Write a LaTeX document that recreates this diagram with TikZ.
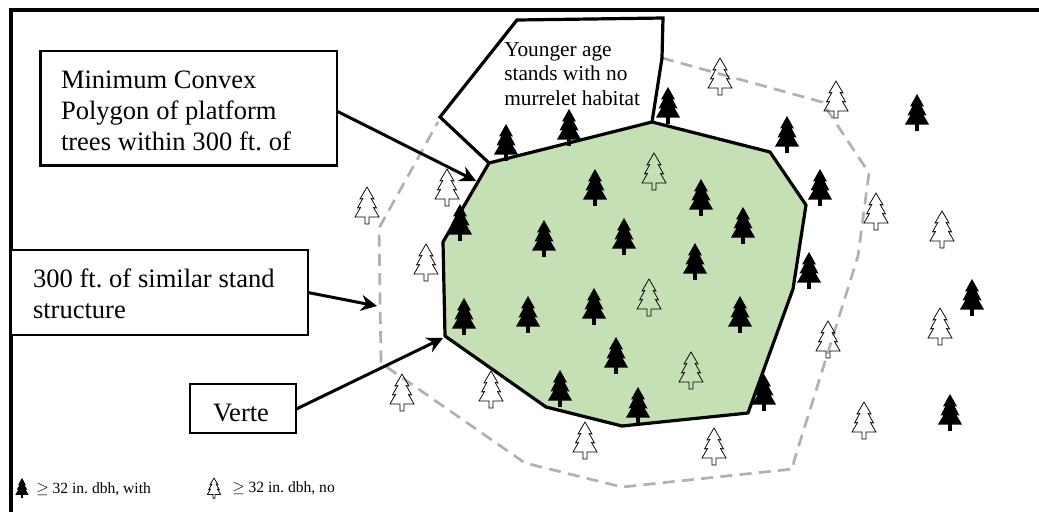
\documentclass[tikz,border=0pt]{standalone}
\usepackage{fontspec}
\setmainfont{Liberation Serif}
\usetikzlibrary{arrows.meta}
\definecolor{standgreen}{HTML}{C5E0B4}
\definecolor{buffergray}{HTML}{B2B0B2}
\newcommand{\tightwords}{\spaceskip=5.1pt\relax}
\newcommand{\firstline}[2]{\raisebox{0pt}[#1][0pt]{#2}}
\tikzset{
  px/.style={line width=#1*0.75pt},
  boxstyle/.style={draw=black,fill=white,px=2.8,rectangle,inner ysep=0pt,align=left,outer sep=0pt,anchor=north west},
  lbig/.style={font=\fontsize{19.9}{23.3}\selectfont\frenchspacing},
  lmid/.style={font=\fontsize{16}{18.3}\selectfont\frenchspacing},
  lsmall/.style={font=\fontsize{11.7}{14}\selectfont\frenchspacing,inner sep=0pt,anchor=base west},
  pointer/.style={px=3,-{Stealth[length=12pt,width=12pt,inset=4pt]}},
  outline/.style={draw=black,px=3.2,line join=miter},
  pics/darktree/.style={code={
    \fill[black] (0,0)--(-7,12.5)--(-4.5,12)--(-9.5,21.5)--(-6.5,21)--(-12,30.5)--(12,30.5)--(6.5,21)--(9.5,21.5)--(4.5,12)--(7,12.5)--cycle;
    \fill[black] (-1.7,29)rectangle(1.7,36.5);
  }},
  pics/opentree/.style={code={
    \draw[black,px=0.75,line join=miter] (-1.9,30)--(-12,30)--(-6.5,20.5)--(-9.5,21)--(-4.2,11.5)--(-7,12)--(0,0)--(7,12)--(4.2,11.5)--(9.5,21)--(6.5,20.5)--(12,30)--(1.9,30)--(1.9,37)--(-1.9,37)--cycle;
  }}
}
\begin{document}
\begin{tikzpicture}[x=0.75pt,y=-0.75pt]
\useasboundingbox (0,0) rectangle (1039,512);
% frame
\draw[black,px=4] (10.5,512) -- (10.5,9.5) -- (1039,9.5);
% buffer
\draw[buffergray,px=2.7,dash pattern=on 9pt off 5.5pt]
  (662,58) -- (822,102) -- (869,173) -- (858,256) -- (794,461) -- (793,469) -- (622,487) -- (525,463) -- (381,363) -- (379,228) -- (438,122);
% stand polygon
\fill[standgreen] (489,163) -- (652,122) -- (770,152) -- (806,205) -- (793,289) -- (748,413) -- (622,426) -- (546,407) -- (445,336) -- (443,242) -- cycle;
% younger stand
\draw[outline,fill=white] (489,163) -- (440,117) -- (517,20) -- (663,18) -- (662,58) -- (652,122);
\draw[outline,line join=round] (489,163) -- (652,122) -- (770,152) -- (806,205) -- (793,289) -- (748,413) -- (622,426) -- (546,407) -- (445,336) -- (443,242) -- cycle;
\node[lmid,align=left,inner sep=0pt,anchor=north west] (younger) at (504,42) {Younger age\\stands with no\\murrelet habitat};
% trees
\foreach \x/\y in {506/124,569/109,668/87,787/116,917/94,820/169,595/169,701/179,743/207,544/220,624/218,695/243,460/204,464/298,528/296,594/288,740/296,616/337,560/370,638/387,764/374,809/252,972/279,950/394}
  \pic at (\x,\y) {darktree};
\foreach \x/\y in {447/169,367/187,426/244,720/58,836/81,654/153,876/193,942/211,649/279,691/352,828/321,940/308,864/402,585/422,714/428,402/374,491/371}
  \pic at (\x,\y) {opentree};
% callouts
\node[boxstyle,lbig,minimum width=296.5*0.75pt,minimum height=114.5*0.75pt,inner xsep=20.5*0.75pt,text width=255.5*0.75pt] (mcp) at (40.5,51) {\tightwords\firstline{17pt}{Minimum Convex}\\Polygon of platform\\trees within 300 ft. of};
\node[boxstyle,lbig,minimum width=297*0.75pt,minimum height=85*0.75pt,inner xsep=22*0.75pt,text width=253*0.75pt] (simstand) at (11,250) {\tightwords\firstline{15.5pt}{300 ft. of similar stand}\\structure};
\node[boxstyle,lbig,minimum width=106*0.75pt,minimum height=49*0.75pt,inner xsep=0pt,align=center] (verte) at (190,384) {\kern-3pt\firstline{19.5pt}{Verte}};
\coordinate (mcpend) at (476,181);
\coordinate (bufferpt) at (377,306);
\coordinate (vertexpt) at (443,338);
\draw[pointer] ([yshift=-2.2pt]mcp.east) -- (mcpend);
\draw[pointer] (simstand.east) -- (bufferpt);
\draw[pointer] ([yshift=-0.5pt]verte.east) -- (vertexpt);
% legend
\pic[scale=0.55] at (22,478) {darktree};
\pic[scale=0.55] at (214,478) {opentree};
\node[lsmall] (legdark) at (36,493) {$\geq$ 32 in. dbh, with};
\node[lsmall] (legopen) at (232,492.5) {$\geq$ 32 in. dbh, no};
\end{tikzpicture}
\end{document}
